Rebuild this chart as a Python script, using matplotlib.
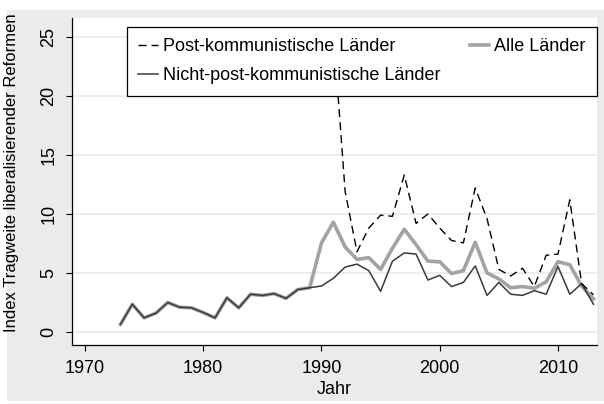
import matplotlib
matplotlib.use("Agg")
import matplotlib.pyplot as plt
from matplotlib.patches import Rectangle

plt.rcParams['font.family'] = ['Liberation Sans', 'DejaVu Sans']
plt.rcParams['lines.scale_dashes'] = False

# Jahre und Werte
jahre = list(range(1973, 2014))
nicht_post = [0.65, 2.35, 1.2, 1.6, 2.5, 2.1, 2.05, 1.65, 1.2, 2.9,
              2.05, 3.2, 3.1, 3.25, 2.85, 3.6, 3.75, 3.9, 4.55, 5.5,
              5.75, 5.2, 3.45, 6.0, 6.7, 6.6, 4.4, 4.8, 3.85, 4.2,
              5.6, 3.1, 4.2, 3.2, 3.1, 3.5, 3.2, 5.55, 3.2, 4.1, 2.35]
alle = [0.65, 2.35, 1.2, 1.6, 2.5, 2.1, 2.05, 1.65, 1.2, 2.9,
        2.05, 3.2, 3.1, 3.25, 2.85, 3.6, 3.75, 7.55, 9.3, 7.2,
        6.15, 6.3, 5.3, 7.1, 8.7, 7.4, 6.0, 5.95, 4.95, 5.2,
        7.6, 5.0, 4.5, 3.75, 3.85, 3.7, 4.25, 5.95, 5.7, 3.9, 2.8]
jahre_post = list(range(1991, 2014))
post = [25.5, 11.9, 6.8, 8.8, 9.9, 9.8, 13.3, 9.2, 10.0, 8.8,
        7.75, 7.55, 12.2, 9.6, 5.3, 4.75, 5.4, 3.85, 6.5, 6.6,
        11.2, 4.1, 3.15]

xticks = [1970, 1980, 1990, 2000, 2010]
yticks = [0, 5, 10, 15, 20, 25]

W, H = 604, 404
fig = plt.figure(figsize=(W / 100, H / 100), dpi=100, facecolor='white')
bg = Rectangle((7 / W, 3 / H), 1 - 7 / W, 391 / H,
               transform=fig.transFigure, facecolor='#ebebeb',
               edgecolor='none', zorder=-10)
fig.add_artist(bg)
ax = fig.add_axes([72 / W, (H - 345) / H, (597 - 72) / W, (345 - 18) / H])
ax.set_facecolor('white')

fs = 13
l1, = ax.plot(jahre_post, post, color='black', lw=1.0, dashes=(5.8, 3.6),
              label='Post-kommunistische Länder', zorder=4)
l2, = ax.plot(jahre, nicht_post, color='#3a3a3a', lw=1.1,
              label='Nicht-post-kommunistische Länder', zorder=3)
l3, = ax.plot(jahre, alle, color='#a3a3a3', lw=2.6,
              label='Alle Länder', zorder=2)

ax.set_xlim(1968.9, 2013.3)
ax.set_ylim(-1.1, 26.6)
ax.set_xticks(xticks)
ax.set_yticks(yticks)
ax.set_yticklabels([str(v) for v in yticks], rotation=90, va='center')
ax.grid(axis='y', color='#ececec', lw=1.3)
ax.set_axisbelow(True)
for s in ['top', 'right']:
    ax.spines[s].set_visible(False)
for s in ['left', 'bottom']:
    ax.spines[s].set_linewidth(0.9)
ax.tick_params(direction='out', length=4.5, width=0.8, labelsize=fs, pad=6)

ax.set_xlabel('Jahr', fontsize=fs, labelpad=3)
ax.set_ylabel('Index Tragweite liberalisierender Reformen', fontsize=12)
ax.yaxis.set_label_coords(-0.101, 0.527)

leg = ax.legend(handles=[l1, l2, l3], ncol=2, fontsize=fs, loc='upper left',
                bbox_to_anchor=(127 / W, (H - 27) / H),
                bbox_transform=fig.transFigure,
                frameon=True, fancybox=False, edgecolor='black', framealpha=1,
                handlelength=1.1, handletextpad=0.28, borderpad=0.62,
                columnspacing=1.6, labelspacing=0.68, borderaxespad=0)
leg.get_frame().set_linewidth(0.9)
leg.set_zorder(10)

fig.savefig('out.png', dpi=100, facecolor='white')
